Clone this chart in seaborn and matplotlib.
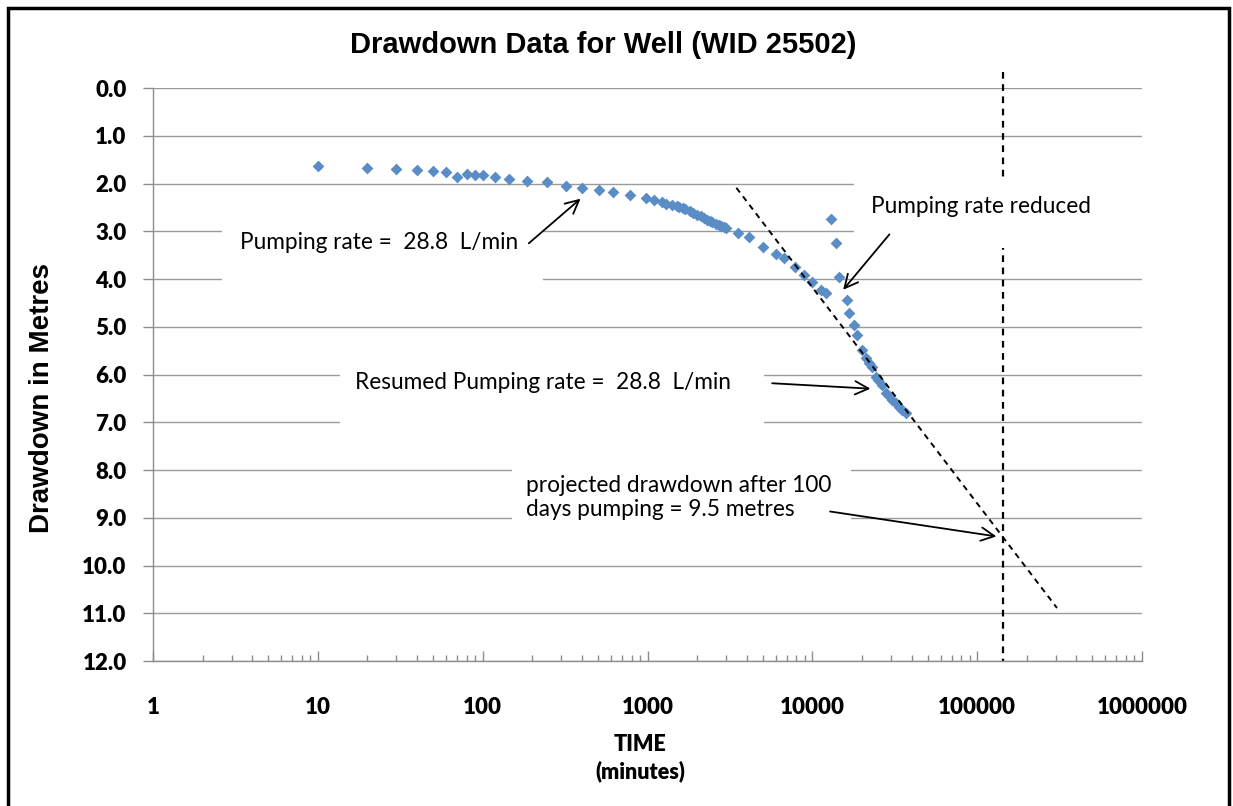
import numpy as np
import pandas as pd
import seaborn as sns
import matplotlib.pyplot as plt
from matplotlib.patches import Rectangle
from matplotlib.ticker import FixedLocator, FixedFormatter, LogLocator, NullFormatter

# drawdown readings (time in minutes, drawdown in metres)
time_min = [10, 20, 30, 40, 50, 60, 70, 80, 90, 100,
            118, 145, 185, 245, 322, 400, 510, 615, 780, 980,
            1100, 1230, 1300, 1400, 1500, 1560, 1650, 1700, 1800, 1900,
            2000, 2100, 2200, 2300, 2400, 2460, 2600, 2700, 2800, 2900,
            3000, 3530, 4150, 5000, 6000,
            6700, 7900, 8900, 10000, 11300, 12100, 12900, 14000, 14500, 16200,
            16700, 17900, 18700, 20100, 21300, 22000, 23000, 24500, 25000, 26400,
            28000, 29000, 30500, 32000, 33600, 35000, 37000]
drawdown_m = [1.63, 1.68, 1.70, 1.72, 1.74, 1.76, 1.86, 1.80, 1.82, 1.82,
              1.86, 1.91, 1.95, 1.97, 2.05, 2.10, 2.14, 2.18, 2.24, 2.30,
              2.34, 2.39, 2.42, 2.45, 2.47, 2.49, 2.52, 2.54, 2.58, 2.62,
              2.66, 2.69, 2.72, 2.76, 2.78, 2.80, 2.84, 2.86, 2.88, 2.91,
              2.93, 3.04, 3.12, 3.33, 3.48,
              3.56, 3.75, 3.92, 4.06, 4.23, 4.30, 2.74, 3.24, 3.95, 4.44,
              4.71, 4.96, 5.17, 5.49, 5.65, 5.75, 5.84, 6.05, 6.12, 6.22,
              6.39, 6.45, 6.53, 6.60, 6.68, 6.75, 6.81]

# projected straight line and the 100 day mark
proj_time = [3460, 305000]
proj_drawdown = [2.09, 10.89]
hundred_days_min = 144000
hundred_days_span = [-0.34, 12.0]

x_ticks = [1, 10, 100, 1000, 10000, 100000, 1000000]
x_tick_labels = ['1', '10', '100', '1000', '10000', '100000', '1000000']
y_ticks = list(range(0, 13))
y_tick_labels = [f'{v:.1f}' for v in y_ticks]

df = pd.DataFrame({'time': time_min, 'drawdown': drawdown_m})

sns.set_theme(style='white')
plt.rcParams['font.family'] = ['Lato', 'DejaVu Sans']
plt.rcParams['text.color'] = 'black'

fig = plt.figure(figsize=(12.33, 8.06), dpi=100)
ax = fig.add_axes([0.1241, 0.1799, 0.8021, 0.7109])

sns.scatterplot(data=df, x='time', y='drawdown', marker='D', s=36,
                color='#5A8DC6', linewidth=0, ax=ax, zorder=3)

ax.set_xscale('log')
ax.set_xlim(1, 1e6)
ax.set_ylim(12, 0)

grid_c = '#9a9a9a'
ax.set_axisbelow(True)
ax.yaxis.grid(True, color=grid_c, lw=1)
ax.xaxis.grid(False)
for s in ['top', 'right']:
    ax.spines[s].set_visible(False)
for s in ['left', 'bottom']:
    ax.spines[s].set_color('#8c8c8c')
    ax.spines[s].set_linewidth(1)

ax.xaxis.set_major_locator(FixedLocator(x_ticks))
ax.xaxis.set_major_formatter(FixedFormatter(x_tick_labels))
ax.xaxis.set_minor_locator(LogLocator(base=10, subs=np.arange(2, 10)))
ax.xaxis.set_minor_formatter(NullFormatter())
ax.set_yticks(y_ticks)
ax.set_yticklabels(y_tick_labels)

ax.tick_params(axis='x', which='both', bottom=True)
ax.tick_params(axis='y', which='both', left=True)
ax.tick_params(axis='x', which='major', direction='in', length=7, width=1,
               color='#8c8c8c', pad=26, labelsize=16, labelcolor='black')
ax.tick_params(axis='x', which='minor', direction='in', length=4, width=1,
               color='#8c8c8c')
ax.tick_params(axis='y', direction='out', length=7, width=1,
               color='#8c8c8c', pad=12, labelsize=16, labelcolor='black')
for lab in ax.get_xticklabels() + ax.get_yticklabels():
    lab.set_fontweight('heavy')
ax.set_xlabel('')
ax.set_ylabel('')

# dashed guide lines
ax.plot([hundred_days_min, hundred_days_min], hundred_days_span, ls=(0, (3, 2.5)),
        color='black', lw=1.6, zorder=0.8, clip_on=False)
ax.plot(proj_time, proj_drawdown, ls=(0, (3, 2.5)), color='black', lw=1.4, zorder=4)

# white text boxes hide the gridlines behind the notes
boxes = [((2.62, 2.45), 231, 4.44),
         ((18000, 1.97), 1e6, 3.35),
         ((13.6, 5.38), 5120, 7.48),
         ((150, 7.69), 17200, 9.21)]
for (x0, y0), x1, y1 in boxes:
    ax.add_patch(Rectangle((x0, y0), x1 - x0, y1 - y0, facecolor='white',
                           edgecolor='none', zorder=1, clip_on=False))

note_kw = dict(fontsize=16.3, color='black', va='center', ha='left', zorder=5)
ax.text(3.37, 3.23, 'Pumping rate =  28.8  L/min', **note_kw)
ax.text(22800, 2.49, 'Pumping rate reduced', **note_kw)
ax.text(16.7, 6.16, 'Resumed Pumping rate =  28.8  L/min', **note_kw)
ax.text(182, 8.57, 'projected drawdown after 100\ndays pumping = 9.5 metres',
        linespacing=1.2, **note_kw)

arrow_kw = dict(arrowstyle='->', color='black', lw=1.3, mutation_scale=24)
ax.annotate('', xy=(404, 2.28), xytext=(185, 3.29), arrowprops=arrow_kw, zorder=5)
ax.annotate('', xy=(15000, 4.27), xytext=(30100, 3.02), arrowprops=arrow_kw, zorder=5)
ax.annotate('', xy=(23400, 6.30), xytext=(5490, 6.18), arrowprops=arrow_kw, zorder=5)
ax.annotate('', xy=(136000, 9.40), xytext=(12330, 8.86), arrowprops=arrow_kw, zorder=5)

# titles
fig.text(0.489, 0.944, 'Drawdown Data for Well (WID 25502)', ha='center', va='center',
         fontsize=21, fontweight='bold', color='black',
         family=['Liberation Sans', 'DejaVu Sans'])
fig.text(0.034, 0.506, 'Drawdown in Metres', rotation=90, ha='center', va='center',
         fontsize=20, fontweight='bold', color='black',
         family=['Liberation Sans', 'DejaVu Sans'])
fig.text(0.519, 0.0595, 'TIME\n(minutes)', ha='center', va='center',
         fontsize=15.5, fontweight='heavy', color='black', linespacing=1.3)

# outer frame
fig.patches.append(Rectangle((8 / 1233, -0.02), (1229 - 8) / 1233, 1.02 - 8 / 806,
                             transform=fig.transFigure, fill=False,
                             edgecolor='black', lw=2.5))

fig.savefig('out.png', dpi=100)
